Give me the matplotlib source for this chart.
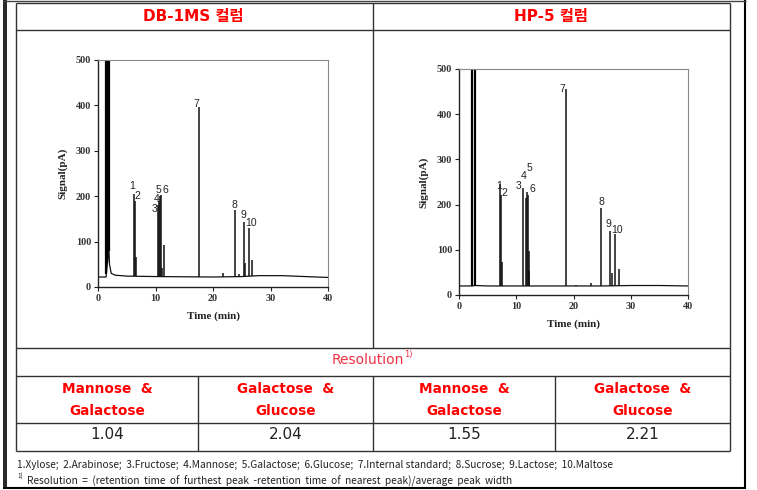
import matplotlib
matplotlib.use('Agg')
import matplotlib.pyplot as plt
import numpy as np

# ---- data ----
col_titles = ['DB-1MS 컬럼', 'HP-5 컬럼']
pair_names = ['Mannose  &\nGalactose', 'Galactose  &\nGlucose', 'Mannose  &\nGalactose', 'Galactose  &\nGlucose']
resolutions = ['1.04', '2.04', '1.55', '2.21']
legend_line = ('1.Xylose;  2.Arabinose;  3.Fructose;  4.Mannose;  5.Galactose;  6.Glucose;  '
               '7.Internal standard;  8.Sucrose;  9.Lactose;  10.Maltose')
footnote = 'Resolution  =  (retention  time  of  furthest  peak  -retention  time  of  nearest  peak)/average  peak  width'

x_ticks = [0, 10, 20, 30, 40]
y_ticks = [0, 100, 200, 300, 400, 500]

# DB-1MS chromatogram
db_base_t = [0, 1.4, 1.9, 2.0, 2.3, 3.0, 5, 10, 20, 25, 28, 32, 36, 40]
db_base_y = [22, 22, 85, 50, 30, 26, 24, 23, 22, 23, 25, 25, 23, 21]
db_solvent_t = [1.45, 1.65, 1.85]
db_peak_t = [6.2, 6.4, 6.6, 10.35, 10.6, 10.8, 10.95, 11.1, 11.5, 17.57, 21.8,
             23.8, 24.6, 25.4, 25.6, 26.2, 26.8]
db_peak_h = [205, 190, 66, 180, 190, 200, 203, 42, 92, 397, 30,
             170, 28, 144, 53, 130, 59]
db_lab = ['1', '2', '3', '4', '5', '6', '7', '8', '9', '10']
db_lab_t = [5.86, 6.78, 9.8, 10.2, 10.6, 11.75, 17.1, 23.77, 25.28, 26.6]
db_lab_y = [222, 201, 172, 193, 214, 213, 403, 180, 158, 141]

# HP-5 chromatogram
hp_base_t = [0, 2.3, 2.8, 5, 15, 25, 30, 35, 40]
hp_base_y = [20, 20, 21, 20, 20, 20, 21, 21, 20]
hp_solvent_t = [2.35, 2.72]
hp_peak_t = [7.1, 7.3, 7.45, 11.2, 11.65, 11.9, 12.05, 12.15, 12.3, 18.74, 20.5, 23.1,
             24.74, 26.3, 26.66, 27.24, 27.94]
hp_peak_h = [245, 222, 74, 236, 215, 228, 222, 52, 98, 456, 23, 27,
             193, 142, 48, 134, 57]
hp_lab = ['1', '2', '3', '4', '5', '6', '7', '8', '9', '10']
hp_lab_t = [6.93, 7.92, 10.36, 11.23, 12.28, 12.8, 17.99, 24.8, 26.02, 27.6]
hp_lab_y = [241, 226, 242, 263, 280, 234, 456, 206, 157, 144]

W, H = 757, 490
RED = '#ff0000'
LAT = ['DejaVu Sans', 'Noto Sans CJK KR']
KR = ['Noto Sans CJK KR', 'DejaVu Sans']

fig = plt.figure(figsize=(W / 100, H / 100), dpi=100)

# overlay in pixel coordinates for the table
ov = fig.add_axes([0, 0, 1, 1])
ov.set_xlim(0, W)
ov.set_ylim(H, 0)
ov.axis('off')

def hl(y, x0, x1, lw=1.0, c='#333333'):
    ov.plot([x0, x1], [y, y], color=c, lw=lw, solid_capstyle='butt')

def vl(x, y0, y1, lw=1.0, c='#333333'):
    ov.plot([x, x], [y0, y1], color=c, lw=lw, solid_capstyle='butt')

# outer frame
vl(3.5, 0, 488.5, lw=1.2, c='black')
vl(6.2, 0, 488.5, lw=1.2, c='black')
vl(745, 0, 488.5, lw=1.5, c='black')
hl(488, 3, 745.5, lw=1.5, c='black')
hl(1, 3, 745.5, lw=1.0, c='#444444')

# inner table
L, R = 16, 730
for y in [3, 30, 348, 376, 423, 451]:
    hl(y, L, R)
vl(L, 3, 451)
vl(R, 3, 451)
vl(373, 3, 348)
for x in [198, 373, 555]:
    vl(x, 376, 451)

ov.text(193, 16, col_titles[0], ha='center', va='center', color=RED,
        fontsize=11, fontweight='bold', family=LAT)
ov.text(551, 16, col_titles[1], ha='center', va='center', color=RED,
        fontsize=11, fontweight='bold', family=LAT)

ov.text(368, 360, 'Resolution', ha='center', va='center', color='#ee3344',
        fontsize=10, family=LAT)
ov.text(404, 354, '1)', ha='left', va='center', color='#ee3344', fontsize=6, family=LAT)

col_cx = [107, 285.5, 464, 642.5]
for cx, name, val in zip(col_cx, pair_names, resolutions):
    l1, l2 = name.split('\n')
    ov.text(cx, 389, l1, ha='center', va='center', color=RED, fontsize=9.8,
            fontweight='bold', family=LAT)
    ov.text(cx, 411, l2, ha='center', va='center', color=RED, fontsize=9.8,
            fontweight='bold', family=LAT)
    ov.text(cx, 434, val, ha='center', va='center', color='#222222', fontsize=11,
            family=LAT)

ov.text(17, 465, legend_line, ha='left', va='center', fontsize=7.3, color='#222222', family=KR)
ov.text(17, 477, '1)', ha='left', va='center', fontsize=4.5, color='#222222', family=KR)
ov.text(27, 481, footnote, ha='left', va='center', fontsize=7.3, color='#222222', family=KR)


def chromatogram(rect, base_t, base_y, solvent_t, peak_t, peak_h, lab, lab_t, lab_y):
    ax = fig.add_axes(rect)
    ax.plot(base_t, base_y, color='#111111', lw=0.9)
    sb = np.interp(solvent_t, base_t, base_y)
    ax.vlines(solvent_t, sb, 1000, color='black', lw=1.6)
    pb = np.interp(peak_t, base_t, base_y)
    ax.vlines(peak_t, pb, peak_h, color='#111111', lw=1.1)
    for s, t, y in zip(lab, lab_t, lab_y):
        ax.text(t, y, s, ha='center', va='center', fontsize=7.5,
                family='Liberation Sans', color='#222222')
    ax.set_xlim(0, 40)
    ax.set_ylim(0, 500)
    ax.set_xticks(x_ticks)
    ax.set_yticks(y_ticks)
    for sp in ['top', 'right']:
        ax.spines[sp].set_color('#888888')
        ax.spines[sp].set_linewidth(0.8)
    for sp in ['left', 'bottom']:
        ax.spines[sp].set_color('#222222')
        ax.spines[sp].set_linewidth(1.0)
    ax.tick_params(direction='out', length=3, width=0.8, color='#222222', pad=2)
    for tl in ax.get_xticklabels() + ax.get_yticklabels():
        tl.set_family('Liberation Serif')
        tl.set_fontweight('bold')
        tl.set_fontsize(7.3)
        tl.set_color('#333333')
    ax.set_xlabel('Time (min)', family='Liberation Serif', fontweight='bold',
                  fontsize=8, color='#222222', labelpad=6)
    ax.set_ylabel('Signal(pA)', family='Liberation Serif', fontweight='bold',
                  fontsize=8, color='#222222', labelpad=6)
    return ax

chromatogram([98 / W, (H - 287) / H, 230 / W, 227 / H],
             db_base_t, db_base_y, db_solvent_t, db_peak_t, db_peak_h,
             db_lab, db_lab_t, db_lab_y)
chromatogram([459 / W, (H - 295) / H, 229 / W, 226 / H],
             hp_base_t, hp_base_y, hp_solvent_t, hp_peak_t, hp_peak_h,
             hp_lab, hp_lab_t, hp_lab_y)

fig.savefig('out.png', dpi=100)
